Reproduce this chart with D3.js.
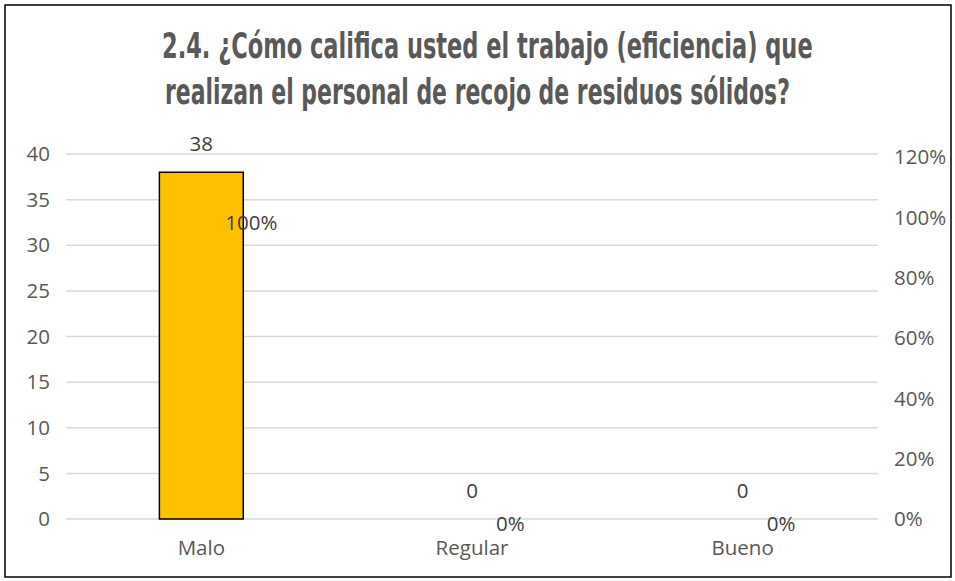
<!DOCTYPE html>
<html>
<head>
<meta charset="utf-8">
<script src="https://cdn.jsdelivr.net/npm/d3@7"></script>
<style>
  body { margin: 0; background: #fff; }
  text { font-family: "Open Sans", "Liberation Sans", sans-serif; }
</style>
</head>
<body>
<div id="chart"></div>
<script>
const categories = ["Malo", "Regular", "Bueno"];
const counts = [38, 0, 0];
const percents = [1, 0, 0];
const countTicks = [0, 5, 10, 15, 20, 25, 30, 35, 40];
const percentTicks = [0, 0.2, 0.4, 0.6, 0.8, 1.0, 1.2];
const titleLines = [
  "2.4. ¿Cómo califica usted el trabajo (eficiencia) que",
  "realizan el personal de recojo de residuos sólidos?"
];

const width = 955, height = 581;
const margin = { left: 66, right: 77, top: 154, bottom: 62 };
const fontSize = "20.5px";

const svg = d3.select("#chart").append("svg")
    .attr("width", width)
    .attr("height", height);

svg.append("rect")
    .attr("x", 5).attr("y", 5)
    .attr("width", 946).attr("height", 572)
    .attr("fill", "#fff")
    .attr("stroke", "#000")
    .attr("stroke-width", 1.5);

// title: condensed bold, squeezed horizontally to the reference width
const titleBox = [[162, 813, 58], [165, 790, 104]];
svg.selectAll("text.title")
    .data(titleLines)
    .enter().append("text")
    .attr("class", "title")
    .attr("text-anchor", "start")
    .style("font-family", "'DejaVu Sans Condensed', 'Liberation Sans Narrow', sans-serif")
    .style("font-weight", "bold")
    .style("font-size", "35px")
    .style("fill", "#595959")
    .text(d => d)
    .each(function(d, i) {
        const w = this.getComputedTextLength();
        const [x0, x1, base] = titleBox[i];
        const k = (x1 - x0) / w;
        d3.select(this).attr("transform", `translate(${x0},${base}) scale(${k},1)`);
    });

const x = d3.scaleBand()
    .domain(categories)
    .range([margin.left, width - margin.right])
    .paddingInner(0.69)
    .paddingOuter(0.345);

const y = d3.scaleLinear()
    .domain([0, 40])
    .range([height - margin.bottom, margin.top]);

const yPct = d3.scaleLinear()
    .domain([0, 1.2])
    .range([height - margin.bottom, 157]);

// gridlines
svg.append("g")
    .selectAll("line")
    .data(countTicks)
    .enter().append("line")
    .attr("x1", margin.left)
    .attr("x2", width - margin.right)
    .attr("y1", d => y(d))
    .attr("y2", d => y(d))
    .attr("stroke", "#d9d9d9")
    .attr("stroke-width", 1.5);

// left axis labels
svg.append("g")
    .selectAll("text")
    .data(countTicks)
    .enter().append("text")
    .attr("x", 50)
    .attr("y", d => y(d))
    .attr("dy", "0.35em")
    .attr("text-anchor", "end")
    .style("font-size", fontSize)
    .style("fill", "#595959")
    .text(d => d);

// right axis labels
svg.append("g")
    .selectAll("text")
    .data(percentTicks)
    .enter().append("text")
    .attr("x", 894)
    .attr("y", d => yPct(d))
    .attr("dy", "0.35em")
    .attr("text-anchor", "start")
    .style("font-size", fontSize)
    .style("fill", "#595959")
    .text(d => d3.format(".0%")(d));

// bars
svg.append("g")
    .selectAll("rect")
    .data(counts)
    .enter().append("rect")
    .attr("x", (d, i) => x(categories[i]))
    .attr("y", d => y(d))
    .attr("width", x.bandwidth())
    .attr("height", d => y(0) - y(d))
    .attr("fill", "#ffc000")
    .attr("stroke", d => d > 0 ? "#000" : "none")
    .attr("stroke-width", 1.5);

// count labels
svg.append("g")
    .selectAll("text")
    .data(counts)
    .enter().append("text")
    .attr("x", (d, i) => x(categories[i]) + x.bandwidth() / 2)
    .attr("y", d => y(d) - 28)
    .attr("dy", "0.35em")
    .attr("text-anchor", "middle")
    .style("font-size", fontSize)
    .style("fill", "#404040")
    .text(d => d);

// percent labels (line series without visible line)
svg.append("g")
    .selectAll("text")
    .data(percents)
    .enter().append("text")
    .attr("x", (d, i) => x(categories[i]) + x.bandwidth() / 2 + 24)
    .attr("y", d => yPct(d) + 5)
    .attr("dy", "0.35em")
    .attr("text-anchor", "start")
    .style("font-size", fontSize)
    .style("fill", "#404040")
    .text(d => d3.format(".0%")(d));

// category labels
svg.append("g")
    .selectAll("text")
    .data(categories)
    .enter().append("text")
    .attr("x", d => x(d) + x.bandwidth() / 2)
    .attr("y", 548)
    .attr("dy", "0.35em")
    .attr("text-anchor", "middle")
    .style("font-size", fontSize)
    .style("fill", "#595959")
    .text(d => d);
</script>
</body>
</html>
